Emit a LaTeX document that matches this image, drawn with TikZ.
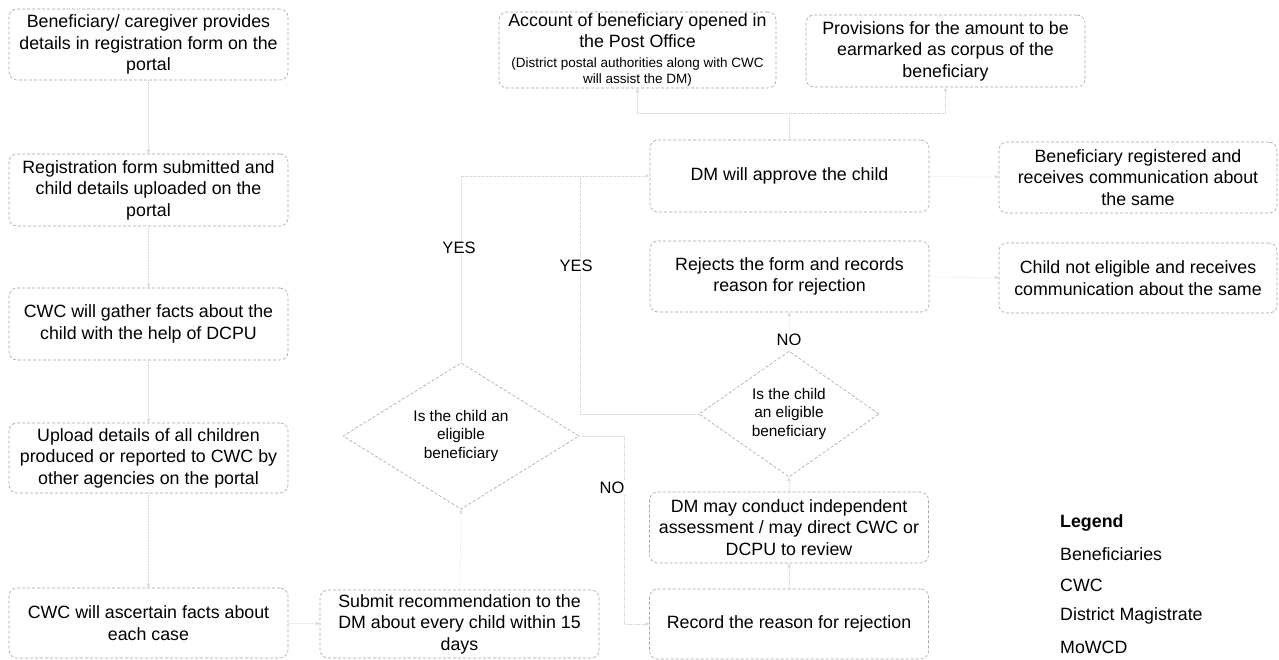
\documentclass[tikz,border=0pt]{standalone}
\usepackage{fontspec}
\setmainfont{Liberation Sans}
\usetikzlibrary{shapes.geometric,arrows.meta,calc}
\begin{document}
\begin{tikzpicture}[x=1pt,y=-1pt,
  box/.style={draw=gray!70,densely dashed,line width=0.6pt,rounded corners=8pt,fill=white,
    minimum width=279pt,minimum height=71pt,inner sep=0pt,align=center,
    font=\fontsize{17.8}{21.5}\selectfont},
  dia/.style={draw=gray!70,densely dashed,line width=0.6pt,diamond,inner sep=0pt,fill=white,
    align=center,font=\fontsize{15.4}{18.5}\selectfont},
  conn/.style={draw=gray!32,line width=0.6pt,densely dotted,-{Stealth[length=4.5pt,width=3.5pt,sep=0pt]}},
  plain/.style={draw=gray!32,line width=0.6pt,densely dotted},
  lab/.style={font=\fontsize{16.5}{20}\selectfont,fill=white,inner sep=1pt},
  leg/.style={font=\fontsize{17.8}{21.5}\selectfont,anchor=west,inner sep=0pt}]
\useasboundingbox (0,0) rectangle (1279,660);

% left column
\node[box] (b1) at (148.5,44.5) {Beneficiary/ caregiver provides\\details in registration form on the\\portal};
\node[box,minimum height=72pt] (b2) at (148.5,190) {Registration form submitted and\\child details uploaded on the\\portal};
\node[box,minimum height=72pt] (b3) at (148.5,324) {CWC will gather facts about the\\child with the help of DCPU};
\node[box,minimum height=70pt] (b4) at (148.5,458) {Upload details of all children\\produced or reported to CWC by\\other agencies on the portal};
\node[box,minimum height=70pt] (b5) at (148.5,623) {CWC will ascertain facts about\\each case};

% middle
\node[box,minimum height=68pt] (sub) at (459.5,624) {Submit recommendation to the\\DM about every child within 15\\days};
\node[dia,minimum width=236pt,minimum height=138pt] (d1) at (461,436) {Is the child an\\eligible\\beneficiary};

% top
\node[box,minimum width=277pt,minimum height=76pt] (acc) at (637.5,50)
  {Account of beneficiary opened in\\the Post Office\\[-1.5pt]{\fontsize{13.5}{16}\selectfont(District postal authorities along with CWC}\\[-5.5pt]{\fontsize{13.5}{16}\selectfont will assist the DM)}};
\node[box,minimum height=72pt] (prov) at (945.5,51) {Provisions for the amount to be\\earmarked as corpus of the\\beneficiary};

% DM column
\node[box,minimum height=72pt] (dmap) at (789.5,176) {DM will approve the child};
\node[box,minimum height=71pt] (rej) at (789.5,276.5) {Rejects the form and records\\reason for rejection};
\node[dia,minimum width=180pt,minimum height=102pt] (d2) at (789,414) {Is the child\\an eligible\\beneficiary};
\node[box,minimum height=71pt] (dmmay) at (789,527.5) {DM may conduct independent\\assessment / may direct CWC or\\DCPU to review};
\node[box,minimum height=70pt] (rec) at (789,624) {Record the reason for rejection};

% right column
\node[box,minimum width=278pt,minimum height=71pt] (reg) at (1138,177.5) {Beneficiary registered and\\receives communication about\\the same};
\node[box,minimum width=278pt,minimum height=70pt] (notel) at (1138,278) {Child not eligible and receives\\communication about the same};

% connectors
\draw[conn] (b1) -- (b2);
\draw[conn] (b2) -- (b3);
\draw[conn] (b3) -- (b4);
\draw[conn] (b4) -- (b5);
\draw[conn] (b5) -- (sub);
\draw[conn] (sub) -- (d1.south);
\coordinate (yesturn) at (580,176);
\draw[conn] (d1.north) |- (dmap.west);
\draw[plain] (d2.west) -| (yesturn);
\coordinate (noturn) at (624,436);
\draw[conn] (d1.east) -- (noturn) |- (rec.west);
\draw[conn] (rec) -- (dmmay);
\draw[conn] (dmmay) -- (d2.south);
\draw[conn] (d2.north) -- (rej);
\draw[conn] (dmap) -- (reg);
\draw[conn] (rej) -- (notel);
\coordinate (split) at (789.5,113);
\draw[plain] (dmap.north) -- (split);
\draw[conn] (split) -| (acc.south);
\draw[conn] (split) -| (prov.south);

% labels
\node[lab] (yes1) at (459,248) {YES};
\node[lab] (yes2) at (576,266) {YES};
\node[lab] (no1) at (612,488) {NO};
\node[lab] (no2) at (789,340) {NO};

% legend
\node[leg] (lg0) at (1060,523) {\bfseries Legend};
\node[leg] (lg1) at (1060,554) {Beneficiaries};
\node[leg] (lg2) at (1060,585) {CWC};
\node[leg] (lg3) at (1060,616) {District Magistrate};
\node[leg] (lg4) at (1060,647) {MoWCD};
\end{tikzpicture}
\end{document}
